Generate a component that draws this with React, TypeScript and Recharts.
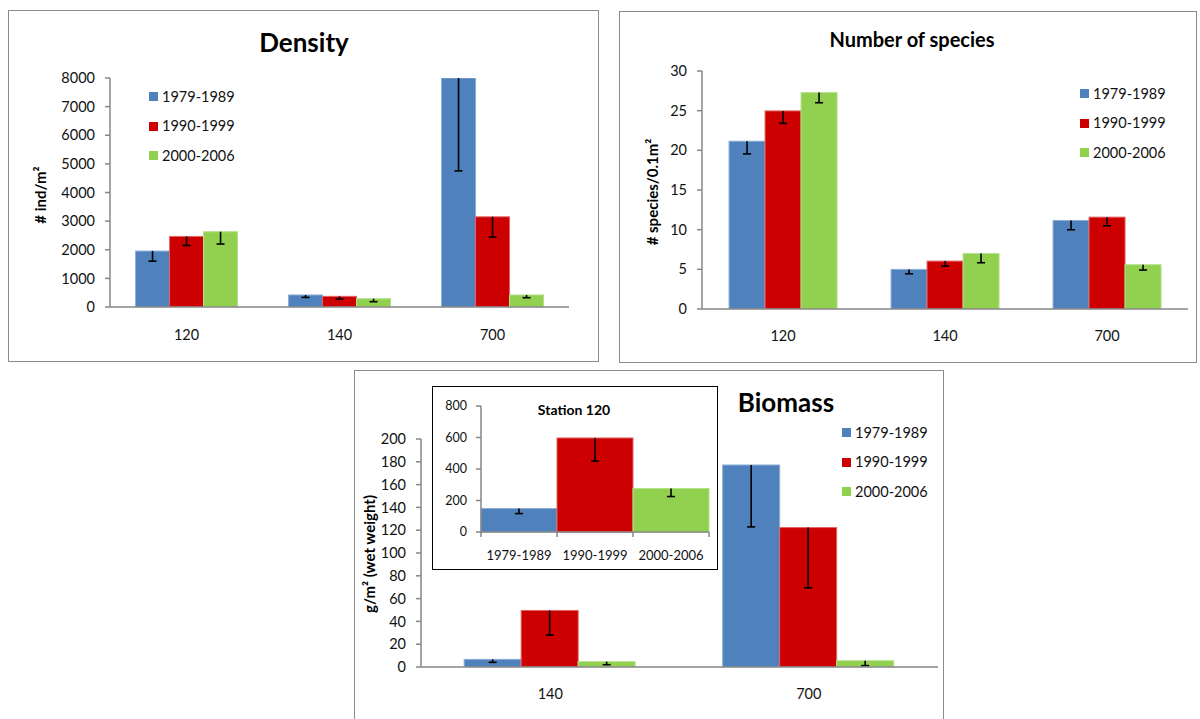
import React from 'react';
import { BarChart, Bar, XAxis, YAxis, Legend, Cell } from 'recharts';

// ---------- data ----------
const periods = ['1979-1989', '1990-1999', '2000-2006'];
const stations = ['120', '140', '700'];
const biomassStations = ['140', '700'];

const density1979 = [1955, 420, 8000];
const density1990 = [2465, 372, 3150];
const density2000 = [2630, 290, 420];
const densityErr1979 = [355, 85, 3245];
const densityErr1990 = [315, 93, 710];
const densityErr2000 = [430, 105, 95];
const densityTicks = [0, 1000, 2000, 3000, 4000, 5000, 6000, 7000, 8000];

const species1979 = [21.15, 4.99, 11.16];
const species1990 = [24.97, 6.04, 11.58];
const species2000 = [27.28, 7.0, 5.58];
const speciesErr1979 = [1.6, 0.55, 1.17];
const speciesErr1990 = [1.57, 0.63, 1.09];
const speciesErr2000 = [1.28, 1.17, 0.67];
const speciesTicks = [0, 5, 10, 15, 20, 25, 30];

const biomass1979 = [6.7, 177.2];
const biomass1990 = [49.6, 122.3];
const biomass2000 = [4.7, 5.5];
const biomassErr1979 = [2.6, 54.3];
const biomassErr1990 = [21.6, 52.8];
const biomassErr2000 = [2.7, 4.3];
const biomassTicks = [0, 20, 40, 60, 80, 100, 120, 140, 160, 180, 200];

const station120Biomass = [149, 597, 276];
const station120Err = [32, 147, 51];
const station120Ticks = [0, 200, 400, 600, 800];

// ---------- build tables ----------
const densityData = stations.map((s, i) => ({
  station: s,
  p1: density1979[i], e1: densityErr1979[i],
  p2: density1990[i], e2: densityErr1990[i],
  p3: density2000[i], e3: densityErr2000[i],
}));
const speciesData = stations.map((s, i) => ({
  station: s,
  p1: species1979[i], e1: speciesErr1979[i],
  p2: species1990[i], e2: speciesErr1990[i],
  p3: species2000[i], e3: speciesErr2000[i],
}));
const biomassData = biomassStations.map((s, i) => ({
  station: s,
  p1: biomass1979[i], e1: biomassErr1979[i],
  p2: biomass1990[i], e2: biomassErr1990[i],
  p3: biomass2000[i], e3: biomassErr2000[i],
}));
const insetData = periods.map((p, i) => ({ period: p, v: station120Biomass[i], e: station120Err[i] }));

// ---------- styles ----------
const COLORS = ['#4F81BD', '#CC0000', '#92D050'];
const EDGES = ['#8EADD6', '#E06666', '#B5E08A'];
const AXIS = '#868686';
const FONT = 'Lato, "Open Sans", sans-serif';

// bar with a downward-only error bar (Excel "minus" error bars)
const makeShape = (valKey: string, errKey: string, capHalf: number) => (props: any) => {
  const { x, y, width, height, fill, payload } = props;
  const v = payload[valKey];
  const e = payload[errKey];
  const errPx = v ? (e * height) / v : 0;
  const cx = x + width / 2;
  const idx = COLORS.indexOf(fill);
  return (
    <g>
      <rect x={x} y={y} width={width} height={height} fill={fill}
        stroke={idx >= 0 ? EDGES[idx] : 'none'} strokeWidth={1} />
      <line x1={cx} y1={y} x2={cx} y2={y + errPx} stroke="#000" strokeWidth={1.6} />
      <line x1={cx - capHalf} y1={y + errPx} x2={cx + capHalf} y2={y + errPx} stroke="#000" strokeWidth={1.6} />
    </g>
  );
};

const LegendBox = (props: any) => {
  const { payload } = props;
  return (
    <div style={{ display: 'flex', flexDirection: 'column', fontFamily: FONT }}>
      {(payload || []).map((p: any) => (
        <div key={p.value} style={{ height: 29.5, display: 'flex', alignItems: 'center' }}>
          <span style={{ width: 9, height: 9, background: p.color, marginRight: 4, display: 'inline-block' }} />
          <span style={{ fontSize: 14.5, color: '#111', lineHeight: '14px' }}>{p.value}</span>
        </div>
      ))}
    </div>
  );
};

const InsetTick = (props: any) => {
  const { x, y, payload, index, visibleTicksCount } = props;
  const off = payload && typeof payload.offset === 'number' ? payload.offset : 0;
  return (
    <g>
      {off > 0 && <line x1={x - off} y1={y} x2={x - off} y2={y + 5} stroke={AXIS} strokeWidth={1.5} />}
      {off > 0 && index === visibleTicksCount - 1 && (
        <line x1={x + off} y1={y} x2={x + off} y2={y + 5} stroke={AXIS} strokeWidth={1.5} />
      )}
      <text x={x} y={y + 19} dy="0.71em" textAnchor="middle" fill="#111"
        style={{ fontFamily: 'Lato, sans-serif', fontSize: 13 }}>
        {payload.value}
      </text>
    </g>
  );
};

const abs = (left: number, top: number, w: number, h: number): React.CSSProperties => ({
  position: 'absolute', left, top, width: w, height: h,
});

const Title = ({ x, y, size, children }: any) => (
  <div style={{
    position: 'absolute', left: x, top: y, transform: 'translate(-50%, -50%)',
    fontSize: size, fontWeight: 700, whiteSpace: 'nowrap', color: '#000', lineHeight: 1,
  }}>{children}</div>
);

const VLabel = ({ x, y, children }: any) => (
  <div style={{
    position: 'absolute', left: x, top: y, transform: 'translate(-50%, -50%) rotate(-90deg)',
    fontSize: 15, fontWeight: 700, whiteSpace: 'nowrap', color: '#000', lineHeight: 1,
  }}>{children}</div>
);

type GroupProps = {
  data: any[]; width: number; height: number; margin: any; yWidth: number;
  ticks: number[]; legendLeft: number; legendTop: number; tickMargin: number;
};

const GroupChart = ({ data, width, height, margin, yWidth, ticks, legendLeft, legendTop, tickMargin }: GroupProps) => (
  <BarChart width={width} height={height} data={data} margin={margin}
    barCategoryGap="16.7%" barGap={0}>
    <XAxis dataKey="station" height={30} tickLine={false} tickSize={0} tickMargin={tickMargin}
      axisLine={{ stroke: AXIS, strokeWidth: 1.5 }}
      tick={{ fill: '#111', fontSize: 14.5, fontFamily: FONT }} />
    <YAxis width={yWidth} domain={[ticks[0], ticks[ticks.length - 1]]} ticks={ticks} interval={0}
      tickSize={5} tickMargin={10}
      axisLine={{ stroke: AXIS, strokeWidth: 1.5 }} tickLine={{ stroke: AXIS, strokeWidth: 1.5 }}
      tick={{ fill: '#111', fontSize: 14.5, fontFamily: FONT }} allowDataOverflow />
    <Legend layout="vertical" align="center" verticalAlign="middle" content={LegendBox}
      wrapperStyle={{ position: 'absolute', left: legendLeft, top: legendTop, width: 'auto', height: 'auto' }} />
    <Bar dataKey="p1" name={periods[0]} fill={COLORS[0]} isAnimationActive={false} shape={makeShape('p1', 'e1', 4)} />
    <Bar dataKey="p2" name={periods[1]} fill={COLORS[1]} isAnimationActive={false} shape={makeShape('p2', 'e2', 4)} />
    <Bar dataKey="p3" name={periods[2]} fill={COLORS[2]} isAnimationActive={false} shape={makeShape('p3', 'e3', 4)} />
  </BarChart>
);

export default function App() {
  return (
    <div style={{ position: 'absolute', left: 0, top: 0, width: 1200, height: 719, overflow: 'hidden', background: '#fff', fontFamily: FONT }}>
      {/* Density */}
      <div style={{ ...abs(8, 10, 591, 352), border: '1px solid #8c8c8c', boxSizing: 'border-box' }} />
      <div style={abs(8, 10, 591, 352)}>
        <GroupChart data={densityData} width={591} height={352}
          margin={{ top: 68, right: 30, bottom: 25, left: 42 }} yWidth={60}
          ticks={densityTicks} legendLeft={141} legendTop={72} tickMargin={23} />
      </div>
      <Title x={304} y={42} size={26}>Density</Title>
      <VLabel x={40} y={195}>
        # ind/m²
      </VLabel>

      {/* Number of species */}
      <div style={{ ...abs(619, 11, 578, 352), border: '1px solid #8c8c8c', boxSizing: 'border-box' }} />
      <div style={abs(619, 11, 578, 352)}>
        <GroupChart data={speciesData} width={578} height={352}
          margin={{ top: 60, right: 9, bottom: 24, left: 33 }} yWidth={50}
          ticks={speciesTicks} legendLeft={461} legendTop={68} tickMargin={22} />
      </div>
      <Title x={912} y={39} size={20}>Number of species</Title>
      <VLabel x={652} y={192}>
        # species/0.1m²
      </VLabel>

      {/* Biomass */}
      <div style={{ ...abs(354, 370, 590, 360), border: '1px solid #8c8c8c', boxSizing: 'border-box' }} />
      <div style={abs(354, 370, 590, 349)}>
        <GroupChart data={biomassData} width={590} height={349}
          margin={{ top: 69, right: 6, bottom: 22, left: 17 }} yWidth={50}
          ticks={biomassTicks} legendLeft={488} legendTop={48} tickMargin={22} />
      </div>
      <Title x={786} y={402} size={26}>Biomass</Title>
      <VLabel x={369} y={554}>
        g/m² (wet weight)
      </VLabel>

      {/* Inset: Station 120 */}
      <div style={{ ...abs(432, 386, 286, 184), background: '#fff', border: '1.5px solid #000', boxSizing: 'border-box' }} />
      <div style={abs(432, 386, 285, 183)}>
        <BarChart width={285} height={183} data={insetData}
          margin={{ top: 20, right: 8, bottom: 12, left: 9 }} barCategoryGap={0} barGap={0}>
          <XAxis dataKey="period" height={25} tickLine={false} tickSize={0} tickMargin={0}
            axisLine={{ stroke: AXIS, strokeWidth: 1.5 }} tick={<InsetTick />} interval={0} />
          <YAxis width={40} domain={[0, 800]} ticks={station120Ticks} interval={0}
            tickSize={5} tickMargin={9}
            axisLine={{ stroke: AXIS, strokeWidth: 1.5 }} tickLine={{ stroke: AXIS, strokeWidth: 1.5 }}
            tick={{ fill: '#111', fontSize: 12.5, fontFamily: FONT }} />
          <Bar dataKey="v" isAnimationActive={false} shape={makeShape('v', 'e', 4)}>
            {insetData.map((d, i) => (
              <Cell key={d.period} fill={COLORS[i]} />
            ))}
          </Bar>
        </BarChart>
      </div>
      <Title x={574} y={410} size={14}>Station 120</Title>
    </div>
  );
}
